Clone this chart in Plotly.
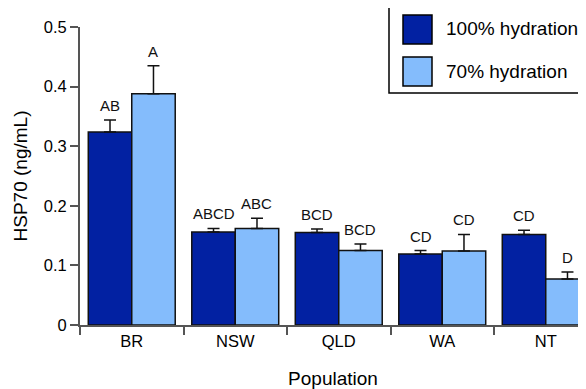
import plotly.graph_objects as go

populations = ["BR", "NSW", "QLD", "WA", "NT"]
hyd100 = [0.324, 0.156, 0.155, 0.119, 0.152]
hyd100_err = [0.020, 0.006, 0.006, 0.006, 0.007]
hyd70 = [0.388, 0.162, 0.125, 0.124, 0.077]
hyd70_err = [0.047, 0.017, 0.011, 0.028, 0.012]
letters100 = ["AB", "ABCD", "BCD", "CD", "CD"]
letters70 = ["A", "ABC", "BCD", "CD", "D"]
series_names = ["100% hydration", "70% hydration"]
tick_vals = [0, 0.1, 0.2, 0.3, 0.4, 0.5]
tick_text = ["0", "0.1", "0.2", "0.3", "0.4", "0.5"]

DARK = "#0221a2"
LIGHT = "#84bcfc"
FONT = "Liberation Sans, Arial, sans-serif"

# page body has an 8px default margin; compensate so the plot lands where the reference has it
OFF = 8
W, H = 586 - OFF, 389 - OFF
PL, PR, PT, PB = 80, 586, 27, 325  # plot area in page pixels

fig = go.Figure()
for name, vals, errs, col in [(series_names[0], hyd100, hyd100_err, DARK),
                              (series_names[1], hyd70, hyd70_err, LIGHT)]:
    fig.add_trace(go.Bar(
        name=name, x=populations, y=vals,
        marker=dict(color=col, line=dict(color="#111", width=1.5)),
        error_y=dict(type="data", array=errs, arrayminus=[0]*len(errs), symmetric=False,
                     color="#111", thickness=1.5, width=6),
        showlegend=False,
    ))

half = 0.21
for i in range(len(populations)):
    for off, v, e, lab in [(-half, hyd100[i], hyd100_err[i], letters100[i]),
                           (half, hyd70[i], hyd70_err[i], letters70[i])]:
        fig.add_annotation(x=i + off, y=v + e, text=lab, showarrow=False,
                           yanchor="bottom", yshift=4, xref="x", yref="y",
                           font=dict(size=15, color="#111", family=FONT))

def px_x(x):
    return (x - PL) / float(PR - PL)

def px_y(y):
    return (PB - y) / float(PB - PT)

fig.add_shape(type="rect", xref="paper", yref="paper",
              x0=px_x(389), x1=px_x(600), y0=px_y(93), y1=px_y(3),
              line=dict(color="black", width=1.5), fillcolor="white", layer="above")
for (y0, y1, col, name, ty) in [(15, 44, DARK, series_names[0], 29),
                                (57, 86, LIGHT, series_names[1], 71)]:
    fig.add_shape(type="rect", xref="paper", yref="paper",
                  x0=px_x(403), x1=px_x(432), y0=px_y(y1), y1=px_y(y0),
                  line=dict(color="black", width=1.5), fillcolor=col, layer="above")
    fig.add_annotation(xref="paper", yref="paper", x=px_x(444), y=px_y(ty),
                       text=name, showarrow=False, xanchor="left", yanchor="middle",
                       font=dict(size=19, color="black", family=FONT))

fig.update_layout(
    width=W, height=H,
    margin=dict(l=PL - OFF, r=0, t=PT - OFF, b=H - (PB - OFF), autoexpand=False),
    paper_bgcolor="white", plot_bgcolor="white",
    barmode="group", bargap=0.16, bargroupgap=0,
    font=dict(family=FONT, color="black"),
)
fig.update_xaxes(
    range=[-0.5, -0.5 + (PR - PL) / 103.5],
    showline=True, linecolor="#555", linewidth=2,
    ticks="outside", tickson="boundaries", ticklen=8, tickcolor="#555", tickwidth=1.5,
    tickfont=dict(size=16.5, family=FONT),
    title=dict(text="Population", font=dict(size=19, family=FONT), standoff=24),
    showgrid=False, zeroline=False,
)
fig.update_yaxes(
    range=[0, 0.5], tickvals=tick_vals, ticktext=tick_text,
    showline=True, linecolor="#555", linewidth=2,
    ticks="outside", ticklen=8, tickcolor="#555", tickwidth=1.5,
    tickfont=dict(size=16.5, family=FONT),
    title=dict(text="HSP70 (ng/mL)", font=dict(size=19, family=FONT), standoff=11),
    showgrid=False, zeroline=False,
)

fig.write_html("out.html")
